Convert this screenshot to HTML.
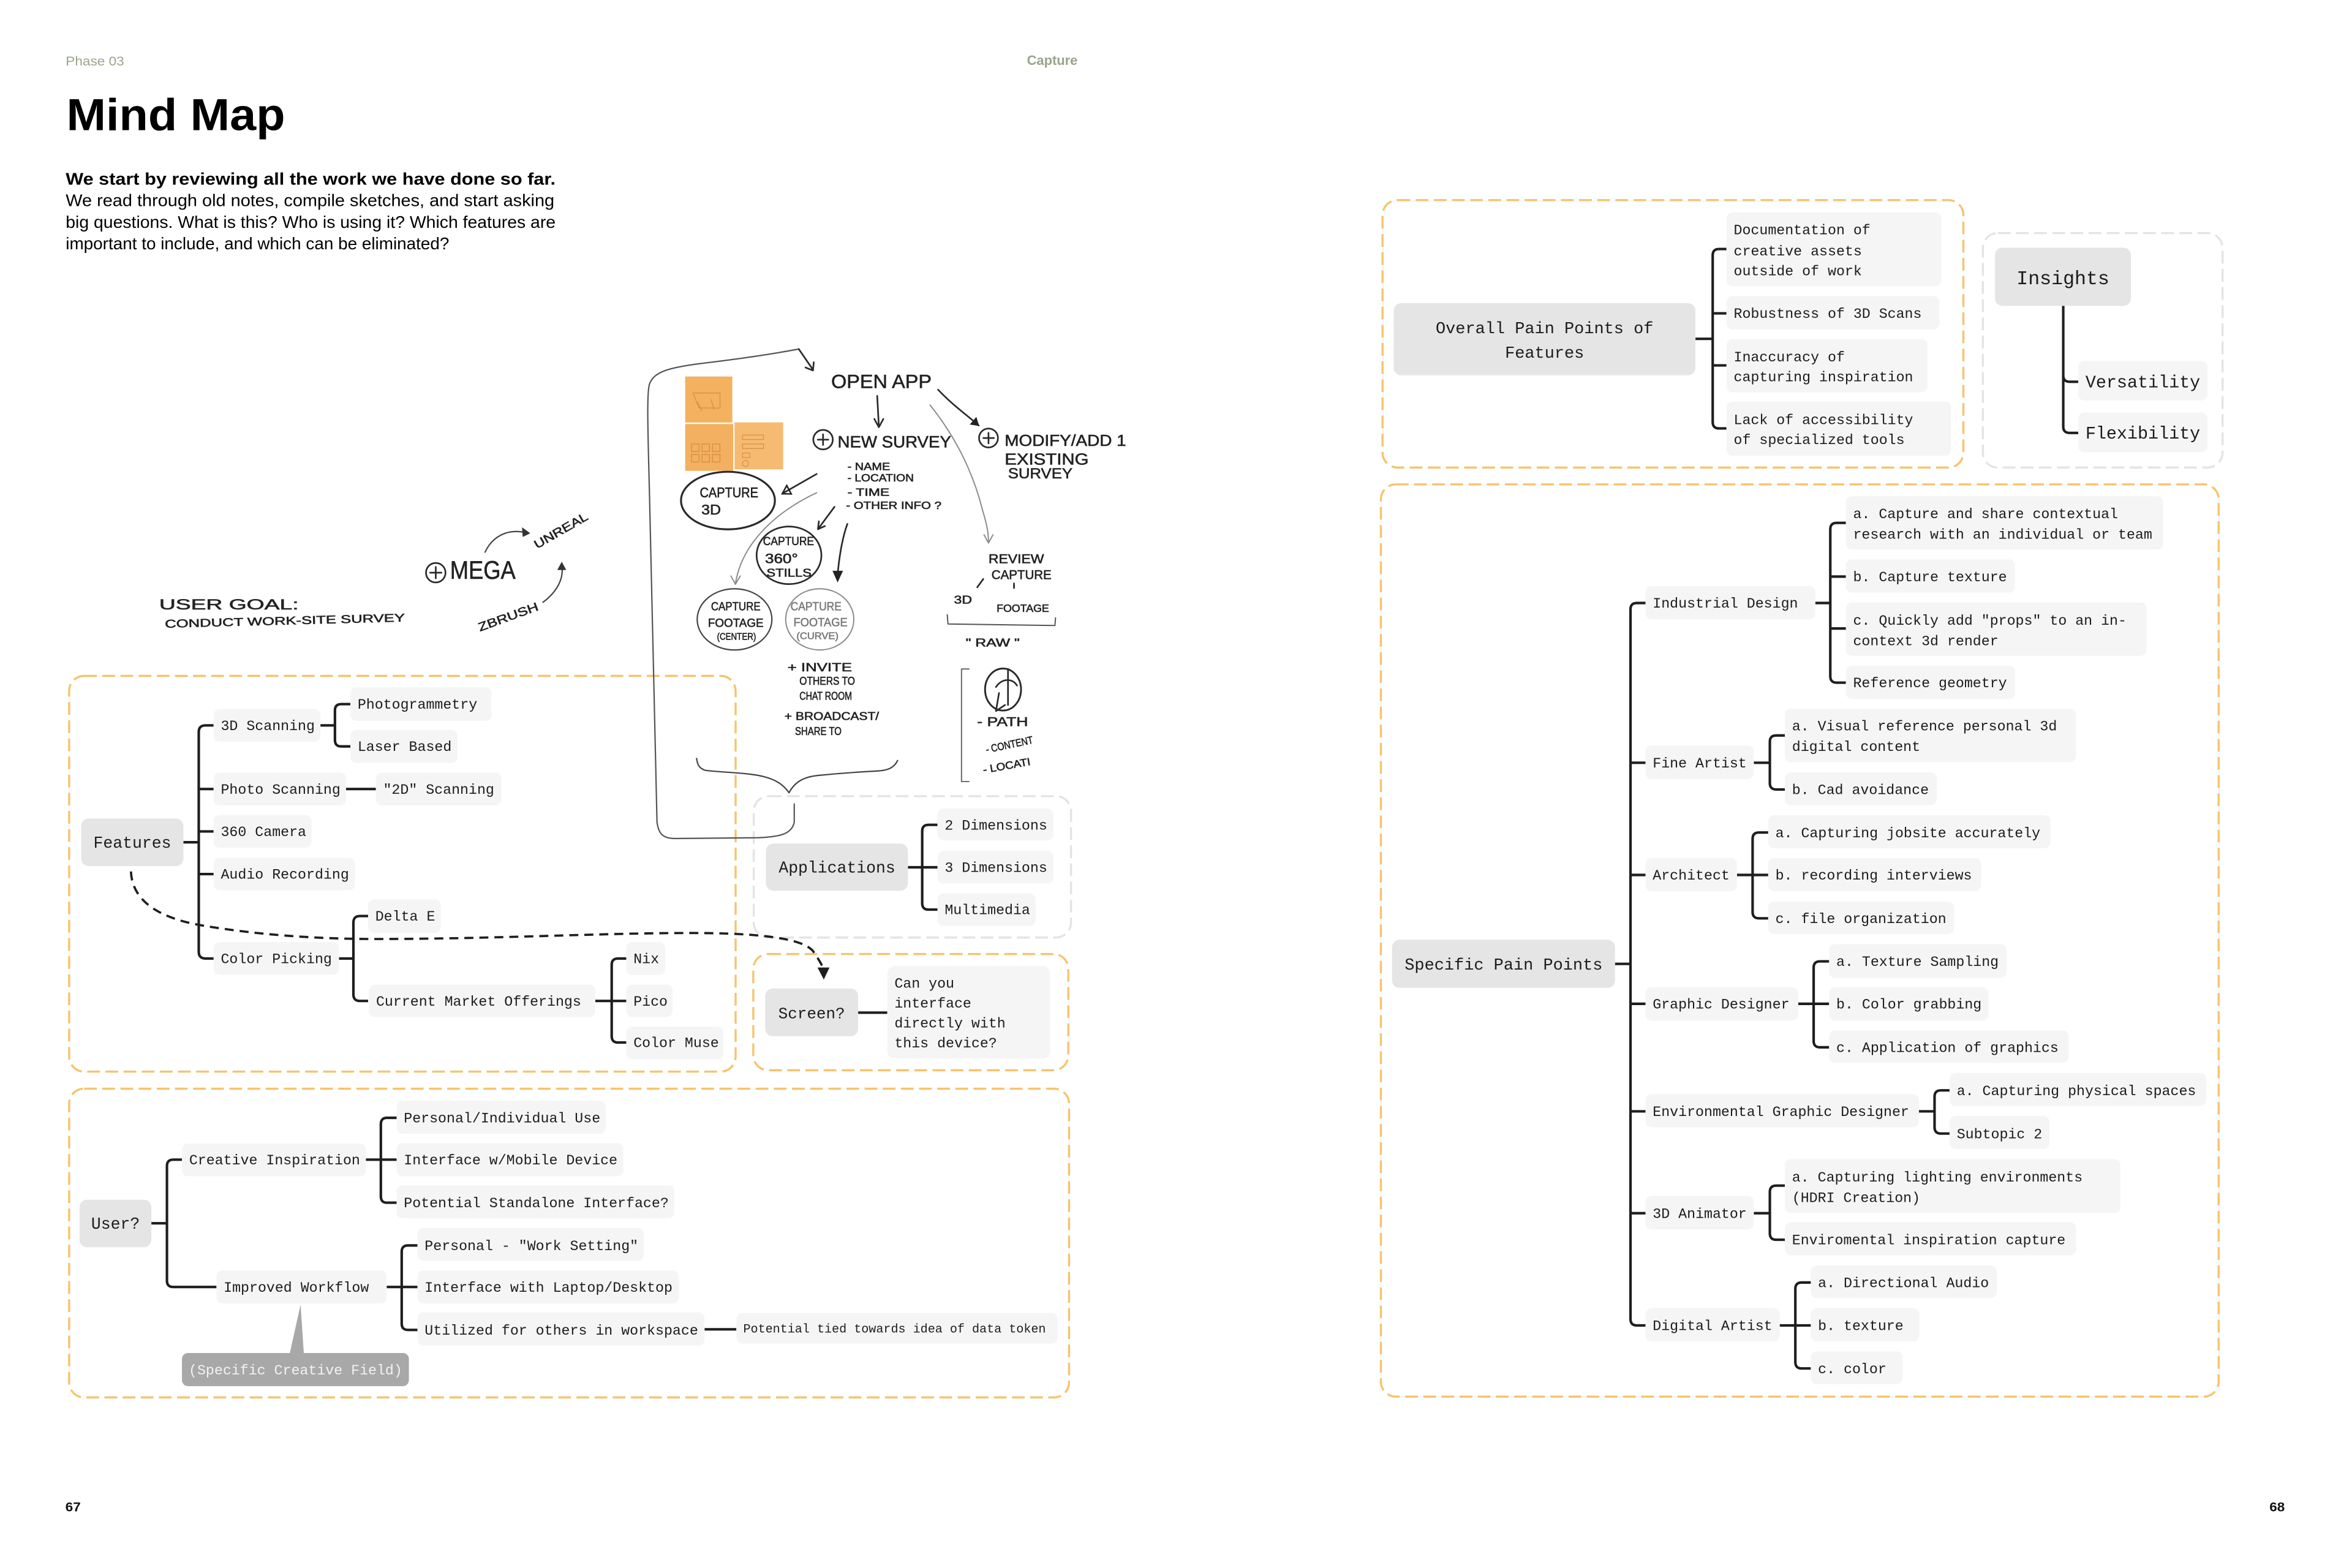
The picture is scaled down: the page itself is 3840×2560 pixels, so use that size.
<!DOCTYPE html>
<html><head><meta charset="utf-8"><style>
html,body{margin:0;padding:0;background:#fff;}
body{width:3840px;height:2560px;overflow:hidden;}
svg{display:block;}
.m{font-family:'Liberation Mono','DejaVu Sans Mono',monospace;font-size:9.5px;fill:#1c1c1c;}
.s{font-family:'Liberation Sans',Arial,sans-serif;}
.hw{font-family:'Liberation Sans',Arial,sans-serif;fill:#222;stroke:#222;stroke-width:0.25;}
.hg{fill:#7a7a7a;stroke:#7a7a7a;}
.c{fill:#f5f5f5;}
.rr{fill:#e5e5e5;}
.ln{fill:none;stroke:#1e1e1e;stroke-width:1.7;stroke-linejoin:round;}
.ob{fill:none;stroke:#f6c46e;stroke-width:1.4;stroke-dasharray:8.5 3.6;}
.gb{fill:none;stroke:#e4e4e4;stroke-width:1.4;stroke-dasharray:8.5 3.6;}
.sk{fill:none;stroke:#2a2a2a;stroke-width:1.1;stroke-linecap:round;stroke-linejoin:round;}
.sg{fill:none;stroke:#8a8a8a;stroke-width:0.8;stroke-linecap:round;stroke-linejoin:round;}
.dc{fill:none;stroke:#1e1e1e;stroke-width:1.5;stroke-dasharray:6 4;}
</style></head><body>
<svg width="3840" height="2560" viewBox="0 0 1568 1045.33" xmlns="http://www.w3.org/2000/svg">
<rect x="0" y="0" width="1568" height="1045.33" fill="#fff"/>

<!-- Header -->
<text class="s" x="43.8" y="43.6" font-size="8.8" fill="#9aa58a" textLength="39" lengthAdjust="spacingAndGlyphs">Phase 03</text>
<text class="s" x="684.6" y="43.3" font-size="8.9" font-weight="bold" fill="#9aa58a" textLength="33.8" lengthAdjust="spacingAndGlyphs">Capture</text>
<text class="s" x="44.3" y="86.7" font-size="30" font-weight="bold" fill="#000" textLength="145.8" lengthAdjust="spacingAndGlyphs">Mind Map</text>
<text class="s" x="43.8" y="123.2" font-size="11.5" font-weight="bold" fill="#000" textLength="326.6" lengthAdjust="spacingAndGlyphs">We start by reviewing all the work we have done so far.</text>
<text class="s" x="43.8" y="137.5" font-size="11.5" fill="#000" textLength="325.8" lengthAdjust="spacingAndGlyphs">We read through old notes, compile sketches, and start asking</text>
<text class="s" x="43.8" y="151.8" font-size="11.5" fill="#000" textLength="326.6" lengthAdjust="spacingAndGlyphs">big questions. What is this? Who is using it? Which features are</text>
<text class="s" x="43.8" y="166.1" font-size="11.5" fill="#000" textLength="255.7" lengthAdjust="spacingAndGlyphs">important to include, and which can be eliminated?</text>
<text class="s" x="43.6" y="1007.5" font-size="8.8" font-weight="bold" fill="#111" textLength="10.2" lengthAdjust="spacingAndGlyphs">67</text>
<text class="s" x="1513" y="1007.5" font-size="8.8" font-weight="bold" fill="#111" textLength="10.2" lengthAdjust="spacingAndGlyphs">68</text>

<!-- Dashed group boxes -->
<rect class="ob" x="46.1" y="450.6" width="444.3" height="263.8" rx="10"/>
<rect class="gb" x="502.5" y="530.8" width="211.5" height="94.2" rx="10"/>
<rect class="ob" x="502.2" y="636" width="210" height="77.5" rx="10"/>
<rect class="ob" x="46.1" y="725.8" width="666.6" height="205.8" rx="10"/>
<rect class="ob" x="921.7" y="133.4" width="387.2" height="178.3" rx="10"/>
<rect class="gb" x="1321.9" y="155.4" width="159.8" height="156.3" rx="10"/>
<rect class="ob" x="920.6" y="322.9" width="558.5" height="608.2" rx="10"/>

<!-- ========== Sketch ========== -->
<rect x="456.8" y="251" width="31.4" height="30.7" fill="#f4b25e"/>
<rect x="456.8" y="282.7" width="32" height="31.2" fill="#f3b060"/>
<rect x="489.7" y="281.6" width="32.4" height="31.3" fill="#f6bb70"/>
<g fill="none" stroke="#c97e34" stroke-width="0.5" opacity="0.7">
<path d="M462,262 h18 v10 h-14z M465,268 l3,6 M474,266 l2,7"/>
<path d="M461,296 h5 v5 h-5z M468,296 h5 v5 h-5z M475,296 h5 v5 h-5z M461,303 h5 v5 h-5z M468,303 h5 v5 h-5z M475,303 h5 v5 h-5z"/>
<path d="M495,290 h14 v3 h-14z M495,296 h14 v3 h-14z M495,302 h5 v3 h-5z"/>
<circle cx="497" cy="309" r="2"/>
</g>
<path class="sg" style="stroke:#555;stroke-width:0.9" d="M438,548 C437,500 435,420 433,330 C432,290 431,262 433,256 C436,248 445,245 470,242 C495,239 515,236 532.5,232.7"/>
<path class="sk" d="M532.5,232.7 L542,246.5 M537,245 L542,247 L542.5,241.5"/>
<path class="sg" style="stroke:#555;stroke-width:0.9" d="M438,548 C439,556 442,559 450,559 L505,558.5 C520,558 528,556 529.5,548 L529.5,536"/>
<path class="sg" style="stroke:#444;stroke-width:0.9" d="M464.4,505.6 C465,510 466,512 470,513.5 C480,515 500,515 510,518 C518,520 523,524 526,528.5 C530,521 536,518 545,517 C560,515.5 575,514.5 585,514 C592,513.5 596,512 598.4,507"/>

<text class="hw" x="554.1" y="258.7" font-size="13" textLength="67" lengthAdjust="spacingAndGlyphs">OPEN  APP</text>
<path class="sk" d="M584.8,263.9 L585.9,284.3 M582.9,279.3 L585.9,284.8 L588.9,279.3"/>
<path class="sk" d="M625.4,259.8 C635,270 645,277 652.5,283.7"/>
<path d="M646.5,283 L652.8,284 L650.9,277.9z" fill="#222"/>
<circle class="sk" cx="548.7" cy="293.1" r="6.5"/>
<path class="sk" d="M548.7,289.6 v7 M545.2,293.1 h7"/>
<text class="hw" x="558.4" y="298.3" font-size="11" textLength="75.7" lengthAdjust="spacingAndGlyphs">NEW  SURVEY</text>
<circle class="sk" cx="659" cy="292" r="6.3"/>
<path class="sk" d="M659,288.6 v7 M655.6,292 h7"/>
<text class="hw" x="669.8" y="297.3" font-size="10.5" textLength="81" lengthAdjust="spacingAndGlyphs">MODIFY/ADD 1</text>
<text class="hw" x="669.8" y="309.8" font-size="10.5" textLength="56" lengthAdjust="spacingAndGlyphs">EXISTING</text>
<text class="hw" x="672" y="319" font-size="10" textLength="43" lengthAdjust="spacingAndGlyphs">SURVEY</text>
<path class="sg" d="M620,270 C640,295 650,320 655,340 C658,350 659,355 659,361.9 M656,356.5 L659,362 L662,356.5"/>
<text class="hw" x="565" y="313.3" font-size="7" textLength="28.4" lengthAdjust="spacingAndGlyphs">- NAME</text>
<text class="hw" x="565" y="321" font-size="7" textLength="44.2" lengthAdjust="spacingAndGlyphs">- LOCATION</text>
<text class="hw" x="565" y="330.6" font-size="7" textLength="28" lengthAdjust="spacingAndGlyphs">- TIME</text>
<text class="hw" x="564" y="339.4" font-size="7" textLength="63.6" lengthAdjust="spacingAndGlyphs">- OTHER INFO ?</text>
<ellipse class="sk" cx="485.3" cy="333.7" rx="31.3" ry="19.2" style="stroke-width:1.3"/>
<text class="hw" x="466.5" y="331.6" font-size="9.5" textLength="39" lengthAdjust="spacingAndGlyphs">CAPTURE</text>
<text class="hw" x="467.6" y="343.1" font-size="9.5" textLength="13" lengthAdjust="spacingAndGlyphs">3D</text>
<path class="sk" d="M544.4,316 L521.7,329"/>
<path d="M527.5,329.3 L521.5,329.2 L524.5,323.7z" fill="none" stroke="#222" stroke-width="1"/>
<path class="sg" d="M544.4,328.5 C520,340 495,360 490.3,389 M487.3,384 L490.3,389.5 L493.5,384"/>
<ellipse class="sk" cx="526" cy="370.2" rx="21.6" ry="19.2"/>
<text class="hw" x="508.7" y="363.5" font-size="8" textLength="34" lengthAdjust="spacingAndGlyphs">CAPTURE</text>
<text class="hw" x="510" y="375.5" font-size="9" textLength="22" lengthAdjust="spacingAndGlyphs">360°</text>
<text class="hw" x="511" y="384.5" font-size="7.5" textLength="30" lengthAdjust="spacingAndGlyphs">STILLS</text>
<path class="sk" d="M556.3,337.9 L545.5,352.5 M545.9,347.6 L545.3,352.8 L549.9,350.7"/>
<path class="sk" d="M564.9,349.3 C561,360 559,375 558.4,384"/>
<path d="M555,380.5 L562,380.5 L558.4,388.3z" fill="#222"/>
<ellipse class="sk" cx="489.7" cy="412.9" rx="24.9" ry="20.4" style="stroke:#444;stroke-width:0.9"/>
<text class="hw" x="474" y="407" font-size="8" textLength="33" lengthAdjust="spacingAndGlyphs">CAPTURE</text>
<text class="hw" x="472" y="418" font-size="8" textLength="37" lengthAdjust="spacingAndGlyphs">FOOTAGE</text>
<text class="hw" x="478" y="426.5" font-size="6.5" textLength="26" lengthAdjust="spacingAndGlyphs">(CENTER)</text>
<ellipse class="sg" cx="546.5" cy="412.9" rx="22.7" ry="20.4"/>
<text class="hw hg" x="527" y="407" font-size="8" textLength="34" lengthAdjust="spacingAndGlyphs">CAPTURE</text>
<text class="hw hg" x="529" y="417.5" font-size="8" textLength="36" lengthAdjust="spacingAndGlyphs">FOOTAGE</text>
<text class="hw hg" x="531" y="426" font-size="6.5" textLength="28" lengthAdjust="spacingAndGlyphs">(CURVE)</text>
<text class="hw" x="525" y="447.5" font-size="8" textLength="43" lengthAdjust="spacingAndGlyphs">+ INVITE</text>
<text class="hw" x="533" y="456.5" font-size="7.5" textLength="37" lengthAdjust="spacingAndGlyphs">OTHERS TO</text>
<text class="hw" x="533" y="466.5" font-size="7.5" textLength="35" lengthAdjust="spacingAndGlyphs">CHAT ROOM</text>
<text class="hw" x="523" y="480" font-size="7.5" textLength="63" lengthAdjust="spacingAndGlyphs">+ BROADCAST/</text>
<text class="hw" x="530" y="490" font-size="7.5" textLength="31" lengthAdjust="spacingAndGlyphs">SHARE TO</text>
<text class="hw" x="659" y="375.5" font-size="8.5" textLength="37" lengthAdjust="spacingAndGlyphs">REVIEW</text>
<text class="hw" x="661" y="386" font-size="8.5" textLength="40" lengthAdjust="spacingAndGlyphs">CAPTURE</text>
<path class="sk" d="M655.5,386 L651.5,391.5 M676,389 L676,392"/>
<text class="hw" x="636" y="402.5" font-size="7.5" textLength="12" lengthAdjust="spacingAndGlyphs">3D</text>
<text class="hw" x="664.4" y="408" font-size="7" textLength="35" lengthAdjust="spacingAndGlyphs">FOOTAGE</text>
<path class="sg" style="stroke:#555" d="M631.5,409.8 L632,416 L703.3,417 L703.7,411.9"/>
<text class="hw" x="643.8" y="431" font-size="7.5" textLength="36" lengthAdjust="spacingAndGlyphs">" RAW "</text>
<path class="sg" style="stroke:#666" d="M646,446 L641,446 L641,521 L646,521"/>
<ellipse class="sk" cx="668.7" cy="459.7" rx="12" ry="14" style="stroke-width:1.2"/>
<path class="sk" d="M672,446 L672,470 M664,458 C668,452 675,452 678,457 M666,462 L664,474 L670,470"/>
<text class="hw" x="651.4" y="484" font-size="8.5" textLength="34" lengthAdjust="spacingAndGlyphs">- PATH</text>
<text class="hw" x="656.8" y="499" font-size="7" textLength="32" lengthAdjust="spacingAndGlyphs" transform="rotate(-12 672 496)">- CONTENT</text>
<text class="hw" x="655" y="513" font-size="7" textLength="32" lengthAdjust="spacingAndGlyphs" transform="rotate(-10 670 510)">- LOCATI</text>
<text class="hw" x="106.1" y="406.3" font-size="10" textLength="93" lengthAdjust="spacingAndGlyphs">USER  GOAL:</text>
<text class="hw" x="110" y="418.5" font-size="7.5" textLength="160" lengthAdjust="spacingAndGlyphs" transform="rotate(-1.5 110 418.5)">CONDUCT WORK-SITE SURVEY</text>
<circle class="sk" cx="290.5" cy="381.8" r="6.5"/>
<path class="sk" d="M290.5,378 v7.5 M286.8,381.8 h7.5"/>
<text class="hw" x="300" y="385.8" font-size="17" textLength="43.7" lengthAdjust="spacingAndGlyphs">MEGA</text>
<path class="sg" style="stroke:#444;stroke-width:0.9" d="M323.4,368.1 C328,358 338,352 350.8,355.2"/>
<path d="M348,351.5 L353.5,355.5 L348.5,358z" fill="#333"/>
<text class="hw" x="358" y="366" font-size="8" textLength="40" lengthAdjust="spacingAndGlyphs" transform="rotate(-30 358 366)">UNREAL</text>
<text class="hw" x="320" y="421" font-size="8" textLength="42" lengthAdjust="spacingAndGlyphs" transform="rotate(-20 320 421)">ZBRUSH</text>
<path class="sg" style="stroke:#444;stroke-width:0.9" d="M362,401.5 C372,394 376,385 374.5,377"/>
<path d="M371.5,380 L377.5,380 L374.5,374.5z" fill="#333"/>

<!-- ========== Connectors ========== -->
<path class="dc" d="M87.3,581 C88,600 105,612 135,617 C170,623 210,626 250,626 C330,626 400,622 460,622 C510,622 535,626 542,634 C546,640 548,643 548.8,646"/>
<path d="M545,645 L553,645 L549.2,653z" fill="#1e1e1e"/>

<path class="ln" d="M122.3,561.5H132.5 M142.4,483.6H137Q132.5,483.6 132.5,488V634.5Q132.5,639 137,639H142.4 M132.5,526H142.4 M132.5,554.3H142.4 M132.5,582.7H142.4"/>
<path class="ln" d="M213.6,483.6H223.3 M233.6,469.4H227.5Q223.3,469.4 223.3,473.6V493.4Q223.3,497.6 227.5,497.6H233.6"/>
<path class="ln" d="M230.7,526H250.6"/>
<path class="ln" d="M226,639H235.6 M245.4,610.7H240Q235.6,610.7 235.6,615V663Q235.6,667.3 240,667.3H245.4"/>
<path class="ln" d="M396.9,667.3H407.8 M417.5,639H412Q407.8,639 407.8,643.2V690.8Q407.8,695 412,695H417.5 M407.8,667.3H417.5"/>
<path class="ln" d="M605.3,578.2H614.8 M625,549.9H619Q614.8,549.9 614.8,554.1V602.2Q614.8,606.4 619,606.4H625 M614.8,578.2H625"/>
<path class="ln" d="M572.1,675.1H591.5"/>
<path class="ln" d="M100.9,815.5H111.3 M121.3,773.1H115.5Q111.3,773.1 111.3,777.3V853.8Q111.3,858 115.5,858H144.3"/>
<path class="ln" d="M243.9,773.1H253.9 M264.4,745.2H258Q253.9,745.2 253.9,749.4V797.6Q253.9,801.8 258,801.8H264.4 M253.9,773.1H264.4"/>
<path class="ln" d="M257.8,858H267.8 M278.3,830.3H272Q267.8,830.3 267.8,834.5V882.4Q267.8,886.6 272,886.6H278.3 M267.8,858H278.3"/>
<path class="ln" d="M469.7,886.2H490.9"/>

<path class="ln" d="M1130.3,225.9H1141.8 M1151,166H1146Q1141.8,166 1141.8,170.2V281.4Q1141.8,285.6 1146,285.6H1151 M1141.8,208.9H1151 M1141.8,243.6H1151"/>
<path class="ln" d="M1375.5,203.9V284.4Q1375.5,288.6 1379.7,288.6H1385.5 M1375.5,250.3Q1375.5,254.5 1379.7,254.5H1385.5"/>
<path class="ln" d="M1076.7,642.6H1087 M1097,402H1091.2Q1087,402 1087,406.2V879.4Q1087,883.6 1091.2,883.6H1097 M1087,508.5H1097 M1087,583.3H1097 M1087,669.2H1097 M1087,740.9H1097 M1087,808.8H1097"/>
<path class="ln" d="M1210.2,402H1220.2 M1230.6,348.6H1224.4Q1220.2,348.6 1220.2,352.8V450.9Q1220.2,455.1 1224.4,455.1H1230.6 M1220.2,384.4H1230.6 M1220.2,419H1230.6"/>
<path class="ln" d="M1169.2,508.5H1179.9 M1189.9,490.3H1184.1Q1179.9,490.3 1179.9,494.5V522.1Q1179.9,526.3 1184.1,526.3H1189.9"/>
<path class="ln" d="M1158,583.3H1168.4 M1178.8,555H1172.6Q1168.4,555 1168.4,559.2V608Q1168.4,612.2 1172.6,612.2H1178.8 M1168.4,583.3H1178.8"/>
<path class="ln" d="M1198.8,669.2H1209.1 M1219.4,640.9H1213.3Q1209.1,640.9 1209.1,645.1V694Q1209.1,698.2 1213.3,698.2H1219.4 M1209.1,669.2H1219.4"/>
<path class="ln" d="M1279.3,740.9H1289.7 M1299.7,726.9H1293.9Q1289.7,726.9 1289.7,731.1V751.5Q1289.7,755.7 1293.9,755.7H1299.7"/>
<path class="ln" d="M1169.2,808.8H1179.9 M1189.9,790.4H1184.1Q1179.9,790.4 1179.9,794.6V822.3Q1179.9,826.5 1184.1,826.5H1189.9"/>
<path class="ln" d="M1186.5,883.6H1196.9 M1207.2,855H1201.1Q1196.9,855 1196.9,859.2V908.1Q1196.9,912.3 1201.1,912.3H1207.2 M1196.9,883.6H1207.2"/>

<!-- ========== Features nodes ========== -->
<rect class="rr" x="54.1" y="545.7" width="68.2" height="31.7" rx="5"/>
<text class="m" x="88.2" y="565.1" style="font-size:10.8px" text-anchor="middle">Features</text>
<rect class="c" x="142.4" y="472.7" width="71.2" height="21.8" rx="4"/><text class="m" x="147.2" y="486.7">3D Scanning</text>
<rect class="c" x="233.6" y="458.2" width="94.1" height="22.4" rx="4"/><text class="m" x="238.4" y="472.5">Photogrammetry</text>
<rect class="c" x="233.6" y="486.7" width="71.4" height="21.8" rx="4"/><text class="m" x="238.4" y="500.7">Laser Based</text>
<rect class="c" x="142.4" y="515.1" width="88.3" height="21.9" rx="4"/><text class="m" x="147.2" y="529.1">Photo Scanning</text>
<rect class="c" x="250.6" y="515.1" width="83.6" height="21.9" rx="4"/><text class="m" x="255.4" y="529.1">"2D" Scanning</text>
<rect class="c" x="142.4" y="543.4" width="65.3" height="21.8" rx="4"/><text class="m" x="147.2" y="557.4">360 Camera</text>
<rect class="c" x="142.4" y="571.8" width="94.2" height="21.8" rx="4"/><text class="m" x="147.2" y="585.8">Audio Recording</text>
<rect class="c" x="245.4" y="599.6" width="48.5" height="22.3" rx="4"/><text class="m" x="250.2" y="613.8">Delta E</text>
<rect class="c" x="142.4" y="628" width="83.6" height="21.8" rx="4"/><text class="m" x="147.2" y="642.1">Color Picking</text>
<rect class="c" x="245.9" y="656.5" width="151" height="21.6" rx="4"/><text class="m" x="250.7" y="670.4">Current Market Offerings</text>
<rect class="c" x="417.5" y="628" width="25.9" height="22" rx="4"/><text class="m" x="422.3" y="642.1">Nix</text>
<rect class="c" x="417.5" y="656.5" width="30.9" height="21.6" rx="4"/><text class="m" x="422.3" y="670.4">Pico</text>
<rect class="c" x="417.5" y="684.4" width="64.8" height="21.6" rx="4"/><text class="m" x="422.3" y="698.1">Color Muse</text>

<!-- Applications -->
<rect class="rr" x="510.6" y="562.4" width="94.7" height="31.4" rx="5"/>
<text class="m" x="558" y="581.7" style="font-size:10.8px" text-anchor="middle">Applications</text>
<rect class="c" x="625" y="539" width="77.3" height="21.3" rx="4"/><text class="m" x="629.8" y="553">2 Dimensions</text>
<rect class="c" x="625" y="567.3" width="77.3" height="21.7" rx="4"/><text class="m" x="629.8" y="581.3">3 Dimensions</text>
<rect class="c" x="625" y="595.5" width="65.4" height="21.8" rx="4"/><text class="m" x="629.8" y="609.5">Multimedia</text>

<!-- Screen -->
<rect class="rr" x="510.1" y="659" width="62" height="31.8" rx="5"/>
<text class="m" x="541.1" y="678.8" style="font-size:10.6px" text-anchor="middle">Screen?</text>
<rect class="c" x="591.5" y="644" width="108.6" height="61.7" rx="5"/>
<text class="m" x="596.3" y="658.5">Can you</text>
<text class="m" x="596.3" y="671.7">interface</text>
<text class="m" x="596.3" y="685">directly with</text>
<text class="m" x="596.3" y="698.2">this device?</text>

<!-- User -->
<rect class="rr" x="53" y="799.8" width="47.9" height="31.7" rx="5"/>
<text class="m" x="77" y="819.1" style="font-size:10.8px" text-anchor="middle">User?</text>
<rect class="c" x="121.3" y="762.4" width="122.6" height="21.8" rx="4"/><text class="m" x="126.1" y="776.2">Creative Inspiration</text>
<rect class="c" x="144.3" y="847" width="113.5" height="22" rx="4"/><text class="m" x="149.1" y="861.1">Improved Workflow</text>
<rect class="c" x="264.4" y="733.7" width="139.5" height="22.1" rx="4"/><text class="m" x="269.2" y="748.3">Personal/Individual Use</text>
<rect class="c" x="264.4" y="762.1" width="151.2" height="22.1" rx="4"/><text class="m" x="269.2" y="776.2">Interface w/Mobile Device</text>
<rect class="c" x="264.4" y="790.2" width="185.2" height="22.1" rx="4"/><text class="m" x="269.2" y="804.9">Potential Standalone Interface?</text>
<rect class="c" x="278.3" y="818.6" width="150.9" height="22" rx="4"/><text class="m" x="283.1" y="833.4">Personal - "Work Setting"</text>
<rect class="c" x="278.3" y="847" width="174.3" height="22" rx="4"/><text class="m" x="283.1" y="861.1">Interface with Laptop/Desktop</text>
<rect class="c" x="278.3" y="874.9" width="191.4" height="22.2" rx="4"/><text class="m" x="283.1" y="889.7">Utilized for others in workspace</text>
<rect class="c" x="490.9" y="875.3" width="214.4" height="20.4" rx="4"/><text class="m" x="495.5" y="888.4" style="font-size:8.2px">Potential tied towards idea of data token</text>
<path d="M200.4,869.7 L193,903 L202.6,903z" fill="#a8a8a8"/>
<rect x="121.3" y="902" width="151.3" height="22.1" rx="4" fill="#a8a8a8"/>
<text class="m" x="197" y="916.2" text-anchor="middle" style="fill:#f2f2f2">(Specific Creative Field)</text>

<!-- ========== Right page ========== -->
<rect class="rr" x="929.1" y="202.1" width="201.2" height="48.1" rx="5"/>
<text class="m" x="1029.7" y="222.1" style="font-size:11px" text-anchor="middle">Overall Pain Points of</text>
<text class="m" x="1029.7" y="238.4" style="font-size:11px" text-anchor="middle">Features</text>
<rect class="c" x="1151" y="141.6" width="143.2" height="49.2" rx="4"/>
<text class="m" x="1155.8" y="156.2">Documentation of</text>
<text class="m" x="1155.8" y="170.2">creative assets</text>
<text class="m" x="1155.8" y="183.5">outside of work</text>
<rect class="c" x="1151" y="197.4" width="142" height="22.2" rx="4"/><text class="m" x="1155.8" y="212">Robustness of 3D Scans</text>
<rect class="c" x="1151" y="226" width="134" height="35.6" rx="4"/>
<text class="m" x="1155.8" y="241">Inaccuracy of</text>
<text class="m" x="1155.8" y="254.2">capturing inspiration</text>
<rect class="c" x="1151" y="267.7" width="149.8" height="36.1" rx="4"/>
<text class="m" x="1155.8" y="282.8">Lack of accessibility</text>
<text class="m" x="1155.8" y="296.1">of specialized tools</text>

<rect class="rr" x="1330" y="165.1" width="90.6" height="38.8" rx="5"/>
<text class="m" x="1375.3" y="189.4" style="font-size:12.9px" text-anchor="middle">Insights</text>
<rect class="c" x="1385.5" y="240.6" width="86.2" height="26.4" rx="4"/><text class="m" x="1390.3" y="258.3" style="font-size:11.6px">Versatility</text>
<rect class="c" x="1385.5" y="275" width="86.2" height="26.5" rx="4"/><text class="m" x="1390.3" y="292.4" style="font-size:11.6px">Flexibility</text>

<rect class="rr" x="928" y="626.5" width="148.7" height="32.1" rx="5"/>
<text class="m" x="1002.4" y="646.4" style="font-size:11px" text-anchor="middle">Specific Pain Points</text>

<rect class="c" x="1097" y="390.7" width="113.2" height="22.2" rx="4"/><text class="m" x="1101.8" y="405.1">Industrial Design</text>
<rect class="c" x="1230.6" y="330.8" width="211.5" height="35.6" rx="4"/>
<text class="m" x="1235.4" y="345.4">a. Capture and share contextual</text>
<text class="m" x="1235.4" y="359.2">research with an individual or team</text>
<rect class="c" x="1230.6" y="372.9" width="112.8" height="22.2" rx="4"/><text class="m" x="1235.4" y="387.5">b. Capture texture</text>
<rect class="c" x="1230.6" y="401.6" width="200.4" height="35.6" rx="4"/>
<text class="m" x="1235.4" y="416.6">c. Quickly add "props" to an in-</text>
<text class="m" x="1235.4" y="430.1">context 3d render</text>
<rect class="c" x="1230.6" y="443.8" width="112.8" height="22.2" rx="4"/><text class="m" x="1235.4" y="458.2">Reference geometry</text>

<rect class="c" x="1097" y="497" width="72.2" height="22.4" rx="4"/><text class="m" x="1101.8" y="511.6">Fine Artist</text>
<rect class="c" x="1189.9" y="472.5" width="194.1" height="35.6" rx="4"/>
<text class="m" x="1194.7" y="486.9">a. Visual reference personal 3d</text>
<text class="m" x="1194.7" y="500.7">digital content</text>
<rect class="c" x="1189.9" y="514.9" width="101.3" height="21.9" rx="4"/><text class="m" x="1194.7" y="529.4">b. Cad avoidance</text>

<rect class="c" x="1097" y="571.9" width="61" height="22.3" rx="4"/><text class="m" x="1101.8" y="586.4">Architect</text>
<rect class="c" x="1178.8" y="543.5" width="188.2" height="22" rx="4"/><text class="m" x="1183.6" y="558.1">a. Capturing jobsite accurately</text>
<rect class="c" x="1178.8" y="572" width="142" height="22" rx="4"/><text class="m" x="1183.6" y="586.4">b. recording interviews</text>
<rect class="c" x="1178.8" y="601" width="123.9" height="21.7" rx="4"/><text class="m" x="1183.6" y="615.3">c. file organization</text>

<rect class="c" x="1097" y="658.2" width="101.8" height="22.2" rx="4"/><text class="m" x="1101.8" y="672.3">Graphic Designer</text>
<rect class="c" x="1219.4" y="629.4" width="118.4" height="22.5" rx="4"/><text class="m" x="1224.2" y="644">a. Texture Sampling</text>
<rect class="c" x="1219.4" y="658.2" width="106.2" height="22.2" rx="4"/><text class="m" x="1224.2" y="672.3">b. Color grabbing</text>
<rect class="c" x="1219.4" y="686.9" width="159.8" height="21.7" rx="4"/><text class="m" x="1224.2" y="701.3">c. Application of graphics</text>

<rect class="c" x="1097" y="729.4" width="182.3" height="22.1" rx="4"/><text class="m" x="1101.8" y="744">Environmental Graphic Designer</text>
<rect class="c" x="1299.7" y="715.4" width="171.2" height="21.9" rx="4"/><text class="m" x="1304.5" y="730">a. Capturing physical spaces</text>
<rect class="c" x="1299.7" y="744" width="66.6" height="22" rx="4"/><text class="m" x="1304.5" y="758.8">Subtopic 2</text>

<rect class="c" x="1097" y="797.3" width="72.2" height="22.3" rx="4"/><text class="m" x="1101.8" y="811.9">3D Animator</text>
<rect class="c" x="1189.9" y="772.7" width="223.7" height="35.9" rx="4"/>
<text class="m" x="1194.7" y="787.7">a. Capturing lighting environments</text>
<text class="m" x="1194.7" y="801.3">(HDRI Creation)</text>
<rect class="c" x="1189.9" y="814.8" width="194.1" height="22.1" rx="4"/><text class="m" x="1194.7" y="829.6">Enviromental inspiration capture</text>

<rect class="c" x="1097" y="872.1" width="89.5" height="22.1" rx="4"/><text class="m" x="1101.8" y="886.7">Digital Artist</text>
<rect class="c" x="1207.2" y="843.6" width="124" height="21.8" rx="4"/><text class="m" x="1212" y="858.1">a. Directional Audio</text>
<rect class="c" x="1207.2" y="872.1" width="72.4" height="22.1" rx="4"/><text class="m" x="1212" y="886.7">b. texture</text>
<rect class="c" x="1207.2" y="900.9" width="61.3" height="21.9" rx="4"/><text class="m" x="1212" y="915.4">c. color</text>
</svg>
</body></html>
